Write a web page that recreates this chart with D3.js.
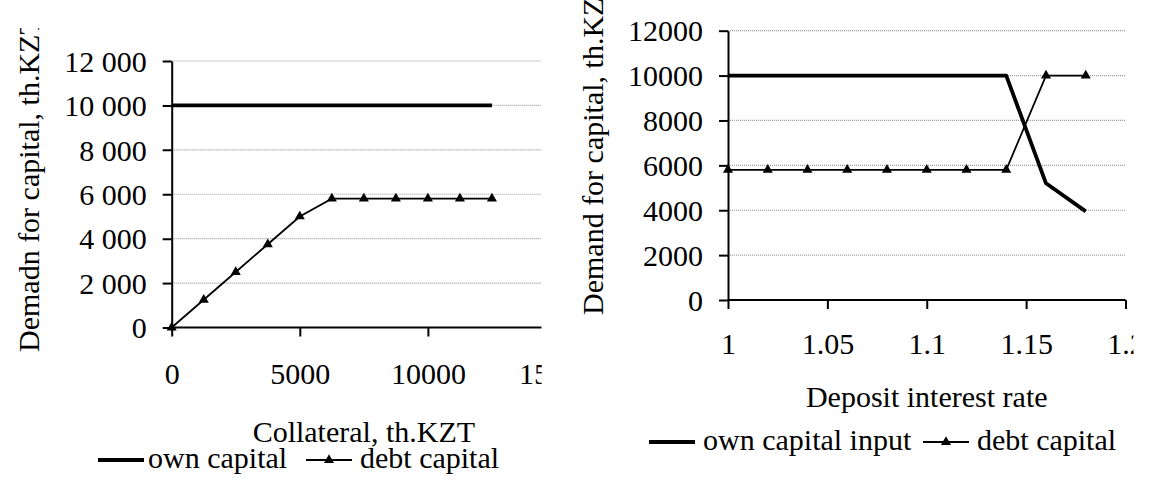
<!DOCTYPE html>
<html lang="en">
<head>
  <meta charset="UTF-8">
  <title>Demand for capital</title>
  <style>
    body { margin: 0; padding: 0; background: #fff; }
    svg { display: block; }
    svg text { font-family: "Liberation Serif", "Times New Roman", serif; }
    .tick text, .lbl { font-size: 30px; fill: #000; }
    .domain, .tick line { stroke: #000; stroke-width: 2px; }
    .grid { stroke: #999; stroke-width: 1.2px; stroke-dasharray: 1,1; }
  </style>
</head>
<body>
  <svg id="chart" width="1154" height="479"></svg>
  <script src="https://d3js.org/d3.v7.min.js"></script>
  <script>
    // left chart: collateral
    var collateral = [0, 1250, 2500, 3750, 5000, 6250, 7500, 8750, 10000, 11250, 12500];
    var ownCapitalA = [10000, 10000, 10000, 10000, 10000, 10000, 10000, 10000, 10000, 10000, 10000];
    var debtCapitalA = [0, 1250, 2500, 3750, 5000, 5800, 5800, 5800, 5800, 5800, 5800];

    // right chart: deposit interest rate
    var rate = [1, 1.02, 1.04, 1.06, 1.08, 1.1, 1.12, 1.14, 1.16, 1.18];
    var ownCapitalB = [10000, 10000, 10000, 10000, 10000, 10000, 10000, 10000, 5200, 3950];
    var debtCapitalB = [5800, 5800, 5800, 5800, 5800, 5800, 5800, 5800, 10000, 10000];

    var yTicks = [0, 2000, 4000, 6000, 8000, 10000, 12000];
    var xTicksA = [0, 5000, 10000, 15000];
    var xTicksB = [1, 1.05, 1.1, 1.15, 1.2];

    var svg = d3.select("#chart");
    var defs = svg.append("defs");
    var spaceFmt = d3.formatLocale({ decimal: ".", thousands: " ", grouping: [3], currency: ["", ""] }).format(",");

    function drawChart(opt) {
      defs.append("clipPath").attr("id", opt.id)
        .append("rect")
        .attr("x", opt.clip[0]).attr("y", opt.clip[1])
        .attr("width", opt.clip[2]).attr("height", opt.clip[3]);

      var g = svg.append("g").attr("clip-path", "url(#" + opt.id + ")");
      var x = d3.scaleLinear().domain(opt.xDomain).range(opt.xRange);
      var y = d3.scaleLinear().domain([0, 12000]).range(opt.yRange);

      // dotted gridlines
      g.selectAll(".grid")
        .data(yTicks.slice(1))
        .enter().append("line")
        .attr("class", "grid")
        .attr("x1", x.range()[0]).attr("x2", opt.gridEnd)
        .attr("y1", function(d) { return y(d); })
        .attr("y2", function(d) { return y(d); });

      var ya = g.append("g")
        .attr("transform", "translate(" + x.range()[0] + ",0)")
        .call(d3.axisLeft(y).tickValues(yTicks).tickSize(9).tickSizeOuter(0)
          .tickPadding(16).tickFormat(opt.yFmt));
      ya.attr("font-family", null).attr("font-size", null);
      ya.selectAll("text").attr("dy", "0.34em");

      var xa = g.append("g")
        .attr("transform", "translate(0," + y(0) + ")")
        .call(d3.axisBottom(x).tickValues(opt.xTicks).tickSize(9).tickSizeOuter(0)
          .tickFormat(opt.xFmt));
      xa.attr("font-family", null).attr("font-size", null);
      xa.selectAll("text").attr("y", opt.xLabelDy).attr("dy", 0);
      xa.select(".domain").attr("d", "M" + x.range()[0] + ",0H" + opt.gridEnd);

      var pts = function(xs, ys) { return xs.map(function(v, i) { return [v, ys[i]]; }); };
      var line = d3.line().x(function(d) { return x(d[0]); }).y(function(d) { return y(d[1]); });

      g.append("path")
        .datum(pts(opt.xs, opt.own))
        .attr("fill", "none").attr("stroke", "#000").attr("stroke-width", 3.8)
        .attr("stroke-linejoin", "round")
        .attr("d", line);

      g.append("path")
        .datum(pts(opt.xs, opt.debt))
        .attr("fill", "none").attr("stroke", "#000").attr("stroke-width", 1.8)
        .attr("d", line);

      var tri = d3.symbol().type(d3.symbolTriangle).size(44);
      g.selectAll(".mark")
        .data(pts(opt.xs, opt.debt))
        .enter().append("path")
        .attr("class", "mark")
        .attr("d", tri)
        .attr("transform", function(d) { return "translate(" + x(d[0]) + "," + y(d[1]) + ")"; });

      // axis titles
      g.append("text").attr("class", "lbl")
        .attr("text-anchor", "middle")
        .attr("x", (x.range()[0] + x.range()[1]) / 2)
        .attr("y", opt.xTitleY)
        .text(opt.xTitle);

      g.append("text").attr("class", "lbl")
        .attr("transform", "translate(" + opt.yTitlePos[0] + "," + opt.yTitlePos[1] + ")rotate(-90)")
        .text(opt.yTitle);

      // legend
      var lg = g.append("g").attr("transform", "translate(0," + opt.legendY + ")");
      lg.append("line")
        .attr("x1", opt.legend[0]).attr("x2", opt.legend[0] + 46)
        .attr("y1", -8).attr("y2", -8)
        .attr("stroke", "#000").attr("stroke-width", 3.8);
      lg.append("text").attr("class", "lbl").attr("x", opt.legend[1]).text(opt.ownLabel);
      lg.append("line")
        .attr("x1", opt.legend[2]).attr("x2", opt.legend[2] + 46)
        .attr("y1", -8).attr("y2", -8)
        .attr("stroke", "#000").attr("stroke-width", 1.8);
      lg.append("path").attr("d", tri)
        .attr("transform", "translate(" + (opt.legend[2] + 23) + ",-8)");
      lg.append("text").attr("class", "lbl").attr("x", opt.legend[3]).text("debt capital");
    }

    drawChart({
      id: "clipA",
      clip: [0, 28, 541.7, 451],
      xDomain: [0, 15000], xRange: [171.7, 556],
      yRange: [327.5, 61],
      gridEnd: 541.7,
      xTicks: xTicksA,
      xFmt: d3.format("d"),
      yFmt: spaceFmt,
      xLabelDy: 56,
      xs: collateral, own: ownCapitalA, debt: debtCapitalA,
      xTitle: "Collateral, th.KZT", xTitleY: 441.7,
      yTitle: "Demadn for capital, th.KZT", yTitlePos: [39, 352],
      legendY: 468, legend: [98, 148, 306, 360],
      ownLabel: "own capital"
    });

    drawChart({
      id: "clipB",
      clip: [575, 0, 558.5, 479],
      xDomain: [1, 1.2], xRange: [728, 1125.5],
      yRange: [300, 30.7],
      gridEnd: 1125.5,
      xTicks: xTicksB,
      xFmt: function(d) { return String(+d.toFixed(2)); },
      yFmt: d3.format("d"),
      xLabelDy: 54,
      xs: rate, own: ownCapitalB, debt: debtCapitalB,
      xTitle: "Deposit interest rate", xTitleY: 406.7,
      yTitle: "Demand for capital, th.KZT", yTitlePos: [603, 315],
      legendY: 450, legend: [649, 703, 923, 977],
      ownLabel: "own capital input"
    });
  </script>
</body>
</html>
